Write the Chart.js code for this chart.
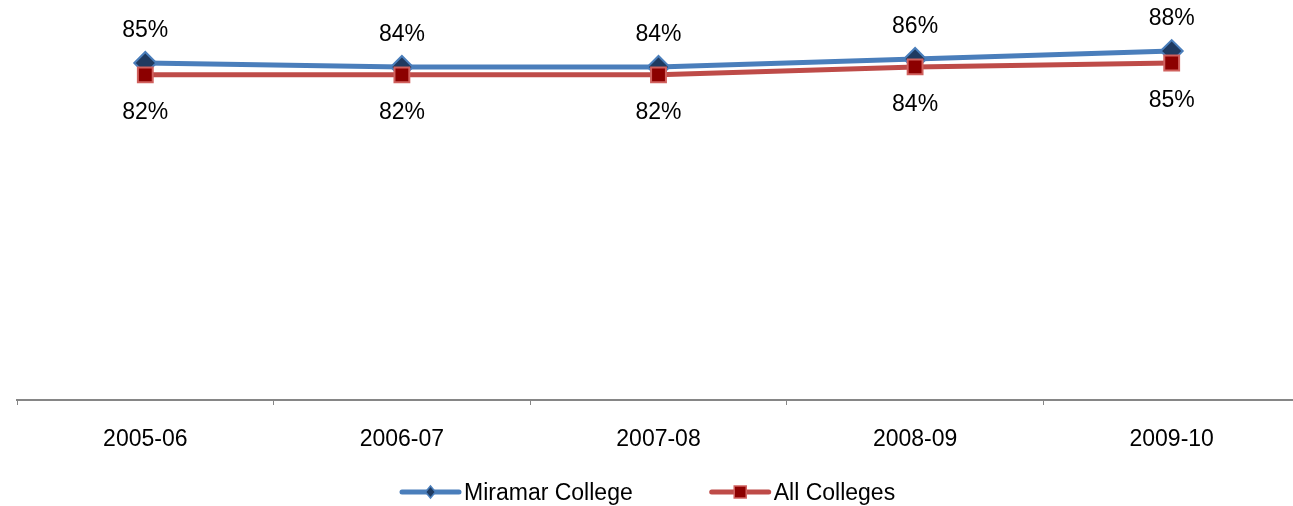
<!DOCTYPE html>
<html>
<head>
<meta charset="utf-8">
<script src="https://cdn.jsdelivr.net/npm/chart.js@4"></script>
<style>
html, body { margin: 0; padding: 0; background: #fff; overflow: hidden; }
#rateChart { display: block; }
</style>
</head>
<body>
<canvas id="rateChart" width="1300" height="506"></canvas>
<script>
const years = ["2005-06", "2006-07", "2007-08", "2008-09", "2009-10"]
const miramar = [85, 84, 84, 86, 88]
const allColleges = [82, 82, 82, 84, 85]
const seriesNames = ["Miramar College", "All Colleges"]

const fontFamily = "'Liberation Sans', Arial, sans-serif"
Chart.defaults.font.family = fontFamily
Chart.defaults.font.size = 23
Chart.defaults.color = "#000"

// labels above the blue line, below the red one
const pointLabels = {
    id: "pointLabels",
    afterDatasetsDraw(chart) {
        const ctx = chart.ctx
        ctx.save()
        ctx.font = "23px " + fontFamily
        ctx.fillStyle = "#000"
        ctx.textAlign = "center"
        ctx.textBaseline = "alphabetic"
        chart.data.datasets.forEach((ds, i) => {
            const meta = chart.getDatasetMeta(i)
            const shift = i === 0 ? -26 : 44
            meta.data.forEach((pt, j) => {
                ctx.fillText(ds.data[j] + "%", pt.x, pt.y + shift)
            })
        })
        ctx.restore()
    }
}

// legend with a line through the marker, like the original
const lineLegend = {
    id: "lineLegend",
    afterDraw(chart) {
        const ctx = chart.ctx
        const y = 492
        const lineW = 57
        const gap = 5
        const itemGap = 79
        ctx.save()
        ctx.font = "23px " + fontFamily
        const widths = chart.data.datasets.map(ds => lineW + gap + ctx.measureText(ds.label).width)
        let x = 402
        chart.data.datasets.forEach((ds, i) => {
            ctx.strokeStyle = ds.borderColor
            ctx.lineWidth = 5
            ctx.lineCap = "round"
            ctx.beginPath()
            ctx.moveTo(x, y)
            ctx.lineTo(x + lineW, y)
            ctx.stroke()
            const cx = x + lineW / 2
            ctx.fillStyle = ds.pointBackgroundColor
            ctx.strokeStyle = ds.pointBorderColor
            ctx.lineWidth = 1.5
            ctx.beginPath()
            if (ds.pointStyle === "rectRot") {
                ctx.moveTo(cx, y - 6)
                ctx.lineTo(cx + 5, y)
                ctx.lineTo(cx, y + 6)
                ctx.lineTo(cx - 5, y)
                ctx.closePath()
            } else {
                ctx.rect(cx - 6, y - 6, 12, 12)
            }
            ctx.fill()
            ctx.stroke()
            ctx.fillStyle = "#000"
            ctx.textAlign = "left"
            ctx.textBaseline = "alphabetic"
            ctx.fillText(ds.label, x + lineW + gap, y + 8)
            x += widths[i] + itemGap
        })
        ctx.restore()
    }
}

const ctx = document.getElementById("rateChart").getContext("2d")
const myChart = new Chart(ctx, {
    type: "line",
    data: {
        labels: years,
        datasets: [
            {
                label: seriesNames[0],
                data: miramar,
                borderColor: "#4a7ebb",
                borderWidth: 5,
                pointStyle: "rectRot",
                pointRadius: 11,
                pointBorderWidth: 2,
                pointBackgroundColor: "#1f3a60",
                pointBorderColor: "#4a7ebb",
                tension: 0,
                order: 1
            },
            {
                label: seriesNames[1],
                data: allColleges,
                borderColor: "#be4b48",
                borderWidth: 5,
                pointStyle: "rect",
                pointRadius: 10.5,
                pointBorderWidth: 2,
                pointBackgroundColor: "#8c0000",
                pointBorderColor: "#d0605d",
                tension: 0,
                order: 0
            }
        ]
    },
    options: {
        responsive: false,
        animation: false,
        layout: {
            autoPadding: false,
            padding: { left: 17, right: 0, top: 3.5, bottom: 31.4 }
        },
        plugins: {
            legend: { display: false },
            tooltip: { enabled: false },
            title: { display: false }
        },
        scales: {
            x: {
                offset: true,
                grid: {
                    display: true,
                    offset: true,
                    drawOnChartArea: false,
                    drawTicks: true,
                    tickLength: 5,
                    color: "#868686",
                    lineWidth: 1
                },
                border: { display: true, color: "#868686", width: 2 },
                ticks: { color: "#000", padding: 21, font: { size: 23 }, maxRotation: 0 }
            },
            y: {
                display: false,
                min: 0,
                max: 100
            }
        }
    },
    plugins: [pointLabels, lineLegend]
});
</script>
</body>
</html>
